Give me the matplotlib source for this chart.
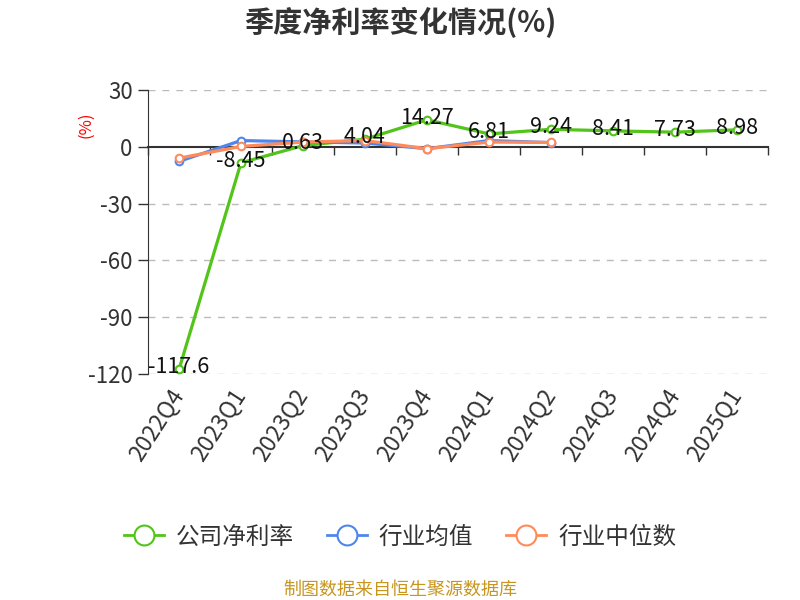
import numpy as np
import matplotlib.pyplot as plt
from matplotlib.ticker import FixedLocator

plt.rcParams['font.family'] = ['Noto Sans CJK SC', 'DejaVu Sans']
plt.rcParams['axes.unicode_minus'] = False

quarters = ["2022Q4", "2023Q1", "2023Q2", "2023Q3", "2023Q4",
            "2024Q1", "2024Q2", "2024Q3", "2024Q4", "2025Q1"]
company = [-117.6, -8.45, 0.63, 4.04, 14.27, 6.81, 9.24, 8.41, 7.73, 8.98]
industry_avg = [-7.7, 3.3, 2.6, 2.0, -1.0, 3.3, 2.2]
industry_median = [-6.0, 0.2, 2.5, 3.3, -1.0, 2.5, 2.3]

green = "#52C41A"
blue = "#4F86EC"
orange = "#FF8A5B"

fig = plt.figure(figsize=(8, 6), dpi=100)
ax = fig.add_axes([148 / 800, 1 - 374 / 600, 620 / 800, 284 / 600])

x = np.arange(len(quarters))
mk = dict(marker="o", markersize=5.5, markerfacecolor="white", markeredgewidth=1.5)
ax.plot(x, company, color=green, lw=2.3, label="公司净利率", zorder=3, **mk)
ax.plot(x[:len(industry_avg)], industry_avg, color=blue, lw=2.3, label="行业均值", zorder=3, **mk)
ax.plot(x[:len(industry_median)], industry_median, color=orange, lw=2.3, label="行业中位数", zorder=4, **mk)

for xi, v in zip(x, company):
    ax.text(xi, v + 1.2, f"{v:g}", ha="center", va="center", fontsize=15.5, color="#111", zorder=5)

ax.set_xlim(-0.5, len(quarters) - 0.5)
ax.set_ylim(-120, 30)
ax.set_yticks([30, 0, -30, -60, -90, -120])
ax.tick_params(axis="y", labelsize=16, colors="#333", length=7, width=1, pad=4)
ax.yaxis.grid(True, linestyle=(0, (5, 5)), color="#BBBBBB", lw=1)
ax.set_axisbelow(True)
ax.get_ygridlines()[1].set_visible(False)

ax.set_xticks(x)
ax.set_xticklabels(quarters, rotation=57, ha="right", va="center", rotation_mode="anchor",
                   fontsize=16.5, color="#333", fontweight="light")
ax.tick_params(axis="x", length=0, pad=12)

for s in ["top", "right", "bottom"]:
    ax.spines[s].set_visible(False)
ax.spines["left"].set_color("#333")

# zero axis line with ticks between categories
zero_pos = (0 - (-120)) / 150
sec = ax.secondary_xaxis(zero_pos)
for s in sec.spines.values():
    s.set_color("#333")
    s.set_linewidth(1.5)
sec.xaxis.set_major_locator(FixedLocator(np.arange(-0.5, len(quarters), 1.0)))
sec.xaxis.set_ticks_position("bottom")
sec.tick_params(axis="x", which="both", direction="out", length=6, width=1, colors="#333",
                bottom=True, top=False, labelbottom=False, labeltop=False)

ax.text(-0.1, 0.877, "(%)", transform=ax.transAxes, rotation=90, color="red",
        fontsize=12, ha="center", va="center")

fig.text(0.5, 1 - 22 / 600, "季度净利率变化情况(%)", ha="center", va="center",
         fontsize=21, fontweight="bold", color="#333")

handles, labels = ax.get_legend_handles_labels()
leg = fig.legend(handles, labels, loc="center", bbox_to_anchor=(0.5, 1 - 537 / 600),
                 ncol=3, frameon=False, fontsize=17, handlelength=1.7,
                 columnspacing=1.4, handletextpad=0.5, markerscale=2.6)
for line in leg.get_lines():
    line.set_linewidth(2)
for t in leg.get_texts():
    t.set_color("#333")

fig.text(0.5, 1 - 590 / 600, "制图数据来自恒生聚源数据库", ha="center", va="center",
         fontsize=13, color="#C8961E")

fig.savefig("out.png", dpi=100)
